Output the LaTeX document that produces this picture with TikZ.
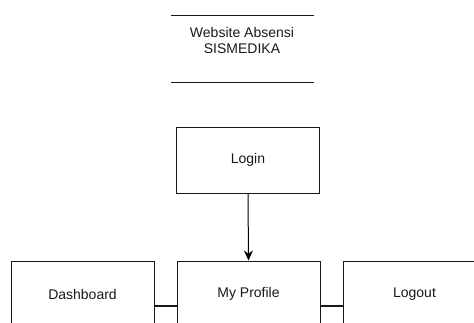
\documentclass[tikz,border=0pt]{standalone}
\usepackage{fontspec}
\setmainfont{Liberation Sans}
\usetikzlibrary{arrows.meta}
\begin{document}
\begin{tikzpicture}[x=1pt,y=-1pt,
  box/.style={draw=black!90,line width=1pt,minimum width=143pt,minimum height=66pt,inner sep=0pt,font=\fontsize{14}{16}\selectfont,text=black!90},
  link/.style={draw=black!90,line width=1.5pt},
  arr/.style={draw=black,line width=1pt,-{Stealth[length=10pt,width=9pt]}}]
\useasboundingbox (0,0) rectangle (474,322);
\clip (0,0) rectangle (474,322);
\coordinate (tl) at (171,15);
\coordinate (tr) at (314,15);
\coordinate (bl) at (171,82);
\coordinate (br) at (314,82);
\draw[line width=1pt,black!90] (tl) -- (tr);
\draw[line width=1pt,black!90] (bl) -- (br);
\node[align=center,font=\fontsize{14}{16}\selectfont,text=black!90] (title) at (242,40) {Website Absensi\\SISMEDIKA};
\node[box] (login) at (248,160) {Login};
\node[box] (dash) at (82.5,294) {Dashboard};
\node[box] (prof) at (248.5,294) {My Profile};
\node[box] (out) at (414.5,294) {Logout};
\draw[arr] (login.south) -- (prof.north);
\draw[link] ([yshift=-12pt]dash.east) -- ([yshift=-12pt]prof.west);
\draw[link] ([yshift=-12pt]prof.east) -- ([yshift=-12pt]out.west);
\end{tikzpicture}
\end{document}
